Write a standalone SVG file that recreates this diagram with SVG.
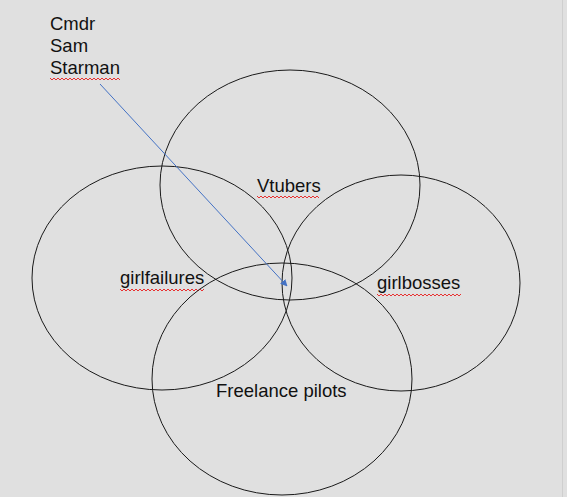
<svg xmlns="http://www.w3.org/2000/svg" width="567" height="497" viewBox="0 0 567 497">
<style>
.set{fill:none;stroke:#1a1a1a;stroke-width:1}
.lbl{font-family:"Liberation Sans",Arial,sans-serif;font-size:18.5px;fill:#111}
.sq{fill:none;stroke:#e83030;stroke-width:1}
</style>
<defs>
<marker id="ah" viewBox="0 0 10 10" refX="9" refY="5" markerWidth="7" markerHeight="7" orient="auto" markerUnits="userSpaceOnUse">
<path d="M0,0 L10,5 L0,10 z" fill="#4472c4"/>
</marker>
</defs>
<rect width="567" height="497" fill="#e0e0e0"/>
<line x1="562.5" y1="0" x2="562.5" y2="497" stroke="#cfcfcf" stroke-width="1"/>
<g id="vtubers">
<ellipse class="set" cx="290" cy="185" rx="130" ry="115"/>
<text class="lbl" x="257" y="192">Vtubers</text>
<path class="sq" d="M257,196 l2,2 l2,-2 l2,2 l2,-2 l2,2 l2,-2 l2,2 l2,-2 l2,2 l2,-2 l2,2 l2,-2 l2,2 l2,-2 l2,2 l2,-2 l2,2 l2,-2 l2,2 l2,-2 l2,2 l2,-2 l2,2 l2,-2 l2,2 l2,-2 l2,2 l2,-2 l2,2 l2,-2 l2,2"/>
</g>
<g id="girlfailures">
<ellipse class="set" cx="162" cy="278" rx="130" ry="112"/>
<text class="lbl" x="120" y="284">girlfailures</text>
<path class="sq" d="M120,289 l2,2 l2,-2 l2,2 l2,-2 l2,2 l2,-2 l2,2 l2,-2 l2,2 l2,-2 l2,2 l2,-2 l2,2 l2,-2 l2,2 l2,-2 l2,2 l2,-2 l2,2 l2,-2 l2,2 l2,-2 l2,2 l2,-2 l2,2 l2,-2 l2,2 l2,-2 l2,2 l2,-2 l2,2 l2,-2 l2,2 l2,-2 l2,2 l2,-2 l2,2 l2,-2 l2,2 l2,-2 l2,2 l2,-2"/>
</g>
<g id="girlbosses">
<ellipse class="set" cx="401" cy="283" rx="119" ry="108"/>
<text class="lbl" x="377" y="289">girlbosses</text>
<path class="sq" d="M377,294 l2,2 l2,-2 l2,2 l2,-2 l2,2 l2,-2 l2,2 l2,-2 l2,2 l2,-2 l2,2 l2,-2 l2,2 l2,-2 l2,2 l2,-2 l2,2 l2,-2 l2,2 l2,-2 l2,2 l2,-2 l2,2 l2,-2 l2,2 l2,-2 l2,2 l2,-2 l2,2 l2,-2 l2,2 l2,-2 l2,2 l2,-2 l2,2 l2,-2 l2,2 l2,-2 l2,2 l2,-2 l2,2 l2,-2"/>
</g>
<g id="freelance">
<ellipse class="set" cx="282" cy="379" rx="130" ry="116"/>
<text class="lbl" x="216" y="397">Freelance pilots</text>
</g>
<g id="sam">
<text class="lbl" x="50" y="30">Cmdr</text>
<text class="lbl" x="50" y="52">Sam</text>
<text class="lbl" x="50" y="74">Starman</text>
<path class="sq" d="M50,78 l2,2 l2,-2 l2,2 l2,-2 l2,2 l2,-2 l2,2 l2,-2 l2,2 l2,-2 l2,2 l2,-2 l2,2 l2,-2 l2,2 l2,-2 l2,2 l2,-2 l2,2 l2,-2 l2,2 l2,-2 l2,2 l2,-2 l2,2 l2,-2 l2,2 l2,-2 l2,2 l2,-2 l2,2 l2,-2 l2,2 l2,-2 l2,2"/>
</g>
<g id="connectors">
<line x1="100" y1="84" x2="287" y2="286" stroke="#4472c4" stroke-width="1" marker-end="url(#ah)"/>
</g>
</svg>
